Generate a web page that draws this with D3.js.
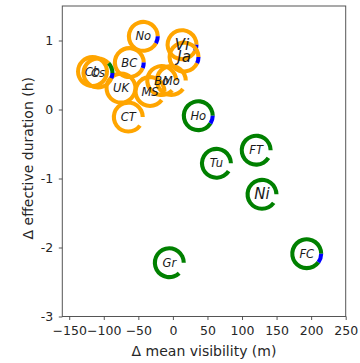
<!DOCTYPE html>
<html>
<head>
<meta charset="utf-8">
<script src="https://cdn.jsdelivr.net/npm/d3@7/dist/d3.min.js"></script>
<style>
  html, body { margin: 0; padding: 0; background: #fff; }
  svg { display: block; }
  text { font-family: "DejaVu Sans", sans-serif; }
</style>
</head>
<body>
<svg id="chart" width="360" height="363"></svg>
<script>
// Site codes and their changes in mean visibility (m) and effective duration (h)
const sites      = ["No", "Vi", "Ja", "BC", "UK", "MS", "Bo", "Mo", "CT", "Cb", "Cs", "Ho", "Tu", "FT", "Ni", "Gr", "FC"];
const dVisibility = [-42.8, 13.2, 16.1, -63.1, -75.1, -33.1, -16.2, -2.3, -64.5, -116.3, -108.4, 36.7, 63.0, 120.5, 128.9, -5.2, 193.6];
const dDuration   = [1.06, 0.94, 0.76, 0.68, 0.31, 0.26, 0.42, 0.42, -0.11, 0.55, 0.53, -0.09, -0.78, -0.59, -1.23, -2.22, -2.09];

// Share of each category in the ring around a site (remainder is left open)
const shareGreen  = [0, 0, 0, 0, 0, 0, 0, 0, 0, 0, 0.12, 0.91, 0.91, 0.91, 0.90, 0.87, 0.90];
const shareOrange = [0.92, 0.93, 0.93, 0.94, 1.0, 0.90, 0.88, 0.90, 0.90, 1.0, 0.82, 0, 0, 0, 0, 0, 0];
const shareBlue   = [0.08, 0.07, 0.07, 0.06, 0, 0, 0, 0, 0, 0, 0.06, 0.09, 0, 0, 0, 0, 0.10];

const xTicks = [-150, -100, -50, 0, 50, 100, 150, 200, 250];
const yTicks = [-3, -2, -1, 0, 1];

const xLabel = "Δ mean visibility (m)";
const yLabel = "Δ effective duration (h)";

// ---- layout ----
const svg = d3.select("#chart");
const plotLeft = 62.3, plotRight = 345.7, plotTop = 6, plotBottom = 316.5;
const x = d3.scaleLinear().domain([-160, 250]).range([plotLeft, plotRight]);
const y = d3.scaleLinear().domain([-3, 1.5]).range([plotBottom, plotTop]);

const textColor = "#262626";
const tickFont = 12.5;
const labelFont = 14;

// frame
svg.append("rect")
  .attr("x", plotLeft).attr("y", plotTop)
  .attr("width", plotRight - plotLeft).attr("height", plotBottom - plotTop)
  .attr("fill", "none").attr("stroke", "#555").attr("stroke-width", 1);

// axes
const xAxis = d3.axisBottom(x).tickValues(xTicks).tickSize(3.5).tickPadding(6)
  .tickFormat(d => String(d).replace("-", "\u2212"));
const yAxis = d3.axisLeft(y).tickValues(yTicks).tickSize(3.5).tickPadding(5.5)
  .tickFormat(d => String(d));

const gx = svg.append("g").attr("transform", `translate(0,${plotBottom})`).call(xAxis);
const gy = svg.append("g").attr("transform", `translate(${plotLeft},0)`).call(yAxis);
[gx, gy].forEach(g => {
  g.select(".domain").remove();
  g.selectAll(".tick line").attr("stroke", "#444").attr("stroke-width", 0.9);
  g.selectAll(".tick text").attr("fill", textColor).style("font-size", tickFont + "px")
    .style("font-family", "'DejaVu Sans', sans-serif");
});

svg.append("text")
  .attr("x", (plotLeft + plotRight) / 2).attr("y", 355.5)
  .attr("text-anchor", "middle").attr("fill", textColor)
  .style("font-size", labelFont + "px").text(xLabel);

svg.append("text")
  .attr("transform", `translate(33,${(plotTop + plotBottom) / 2 - 3}) rotate(-90)`)
  .attr("text-anchor", "middle").attr("fill", textColor)
  .style("font-size", labelFont + "px").text(yLabel);

// ---- ring markers ----
// segments start at 3 o'clock and run counter-clockwise: green, orange, blue
const ringColors = ["green", "orange", "blue"];
const arc = d3.arc().innerRadius(12.4).outerRadius(16.5);
const plot = svg.append("g");

sites.forEach((s, i) => {
  const shares = [shareGreen[i], shareOrange[i], shareBlue[i]];
  const g = plot.append("g").attr("transform", `translate(${x(dVisibility[i])},${y(dDuration[i])})`);
  let start = 0;
  shares.forEach((f, k) => {
    if (f <= 0) return;
    const a0 = start * 2 * Math.PI, a1 = (start + f) * 2 * Math.PI;
    g.append("path")
      .attr("d", arc({ startAngle: Math.PI / 2 - a0, endAngle: Math.PI / 2 - a1 }))
      .attr("fill", ringColors[k]);
    start += f;
  });
});

// site labels
const largeLabels = ["Vi", "Ja", "Ni"];
sites.forEach((s, i) => {
  plot.append("text")
    .attr("x", x(dVisibility[i])).attr("y", y(dDuration[i]))
    .attr("text-anchor", "middle").attr("dominant-baseline", "central")
    .attr("fill", "#1a1a1a")
    .style("font-style", "italic")
    .style("font-size", (largeLabels.includes(s) ? 15 : 11.5) + "px")
    .text(s);
});
</script>
</body>
</html>
